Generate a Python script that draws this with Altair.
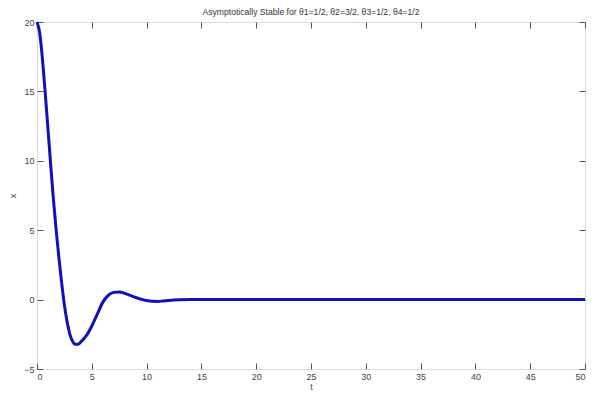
import altair as alt
import pandas as pd

TITLE = "Asymptotically Stable for θ1=1/2, θ2=3/2, θ3=1/2, θ4=1/2"

t_vals = [0, 0.25, 0.5, 0.75, 1.0, 1.25, 1.5, 1.75, 2.0, 2.25, 2.5, 2.75, 3.0,
          3.25, 3.5, 3.75, 4.0, 4.5, 5.0, 5.5, 6.0, 6.5, 7.0, 7.5, 8.0, 8.5,
          9.0, 9.5, 10.0, 10.5, 11.0, 11.5, 12.0, 12.5, 13.0, 14.0, 20.0,
          30.0, 40.0, 50.0]
x_vals = [20.0, 19.2, 17.3, 14.9, 12.3, 9.7, 7.2, 5.0, 3.0, 1.2, -0.4, -1.6,
          -2.5, -3.0, -3.22, -3.22, -3.05, -2.6, -1.9, -1.05, -0.2, 0.3, 0.52,
          0.55, 0.45, 0.3, 0.15, 0.03, -0.07, -0.12, -0.13, -0.1, -0.06, -0.03,
          -0.01, 0.0, 0.0, 0.0, 0.0, 0.0]

x_ticks = [0, 5, 10, 15, 20, 25, 30, 35, 40, 45, 50]
y_ticks = [-5, 0, 5, 10, 15, 20]

df = pd.DataFrame({"t": t_vals, "x": x_vals})

AX = "#555555"
LAB = "#444444"
FONT = "Liberation Sans"

xscale = alt.Scale(domain=[0, 50], nice=False, zero=False)
yscale = alt.Scale(domain=[-5, 20], nice=False, zero=False)

common = dict(domain=False, grid=False, tickSize=6, offset=-6, tickColor=AX,
              labelColor=LAB, labelFont=FONT, labelFontSize=9,
              titleColor=LAB, titleFont=FONT, titleFontSize=9,
              titleFontWeight="normal")

line = alt.Chart(df).mark_line(color="#1010bf", strokeWidth=3,
                               interpolate="monotone").encode(
    x=alt.X("t:Q", scale=xscale,
            axis=alt.Axis(values=x_ticks, title="t", labelPadding=3,
                          titlePadding=1, **common)),
    y=alt.Y("x:Q", scale=yscale,
            axis=alt.Axis(values=y_ticks, title="x", labelPadding=3,
                          titlePadding=6, **common)),
)

frame = alt.Chart(df).mark_line(opacity=0).encode(
    x=alt.X("t:Q", scale=xscale,
            axis=alt.Axis(orient="top", values=x_ticks, title="", labels=False,
                          **common)),
    y=alt.Y("x:Q", scale=yscale,
            axis=alt.Axis(orient="right", values=y_ticks, title="", labels=False,
                          **common)),
)

chart = alt.layer(line, frame).resolve_axis(
    x="independent", y="independent"
).properties(
    width=548,
    height=347,
    title=alt.TitleParams(TITLE, font=FONT, fontSize=8.6, fontWeight="normal",
                          color="#333333", offset=-1, anchor="middle"),
    autosize=alt.AutoSizeParams(type="none"),
    padding={"left": 29, "top": 14, "right": 2, "bottom": 24},
).configure_view(stroke=AX, strokeWidth=1).configure(background="white")

chart.save("out.html", embed_options={"renderer": "svg", "actions": False})
